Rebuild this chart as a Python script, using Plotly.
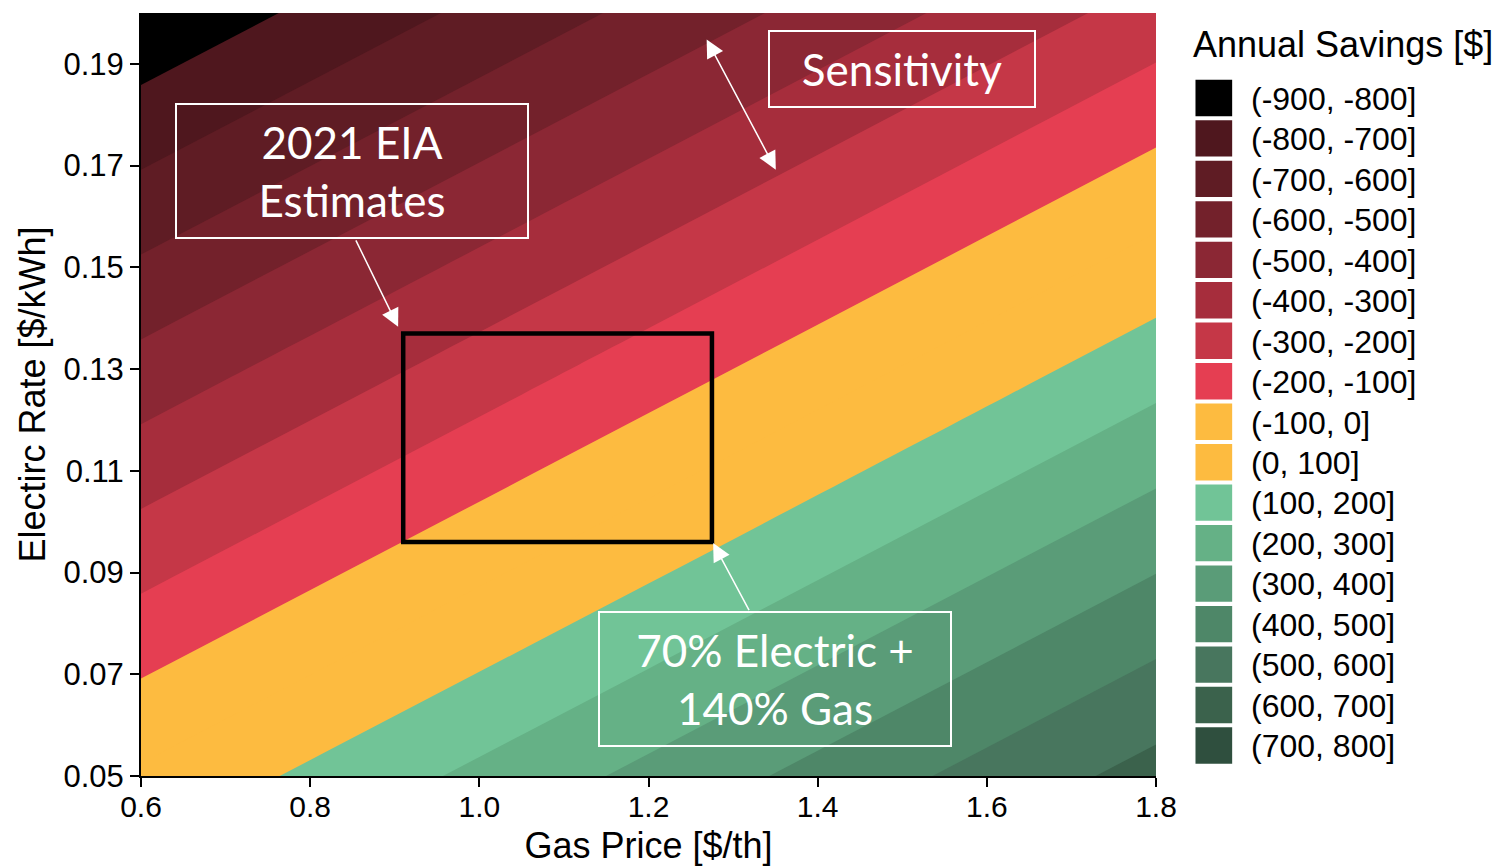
import plotly.graph_objects as go

# ---------------- data ----------------
gas_price = [0.6, 1.2, 1.8]            # $/th
electric_rate = [0.05, 0.125, 0.2]     # $/kWh
annual_savings = [                      # rows follow electric_rate, columns follow gas_price
    [15, 326, 637],
    [-435, -122, 190],
    [-885, -572, -258],
]

band_labels = [
    "(-900, -800]", "(-800, -700]", "(-700, -600]", "(-600, -500]",
    "(-500, -400]", "(-400, -300]", "(-300, -200]", "(-200, -100]",
    "(-100, 0]", "(0, 100]", "(100, 200]", "(200, 300]", "(300, 400]",
    "(400, 500]", "(500, 600]", "(600, 700]", "(700, 800]",
]
band_colors = [
    "#000000", "#4f171e", "#5f1c24", "#73212b", "#8b2734", "#a62d3c",
    "#c53747", "#e53e52", "#fdbb40", "#fdbb40", "#71c497", "#65b186",
    "#5a9c78", "#4e8768", "#48765e", "#3b624c", "#2f4f3e",
]

eia_gas_range = [0.91, 1.275]
eia_elec_range = [0.096, 0.137]

x_ticks = [0.6, 0.8, 1.0, 1.2, 1.4, 1.6, 1.8]
y_ticks = [0.05, 0.07, 0.09, 0.11, 0.13, 0.15, 0.17, 0.19]

# ---------------- layout constants ----------------
# The page body adds an 8px offset, so the figure is drawn 8px smaller and
# all page positions below are given in window pixels.
OFF = 8
W, H = 1504 - OFF, 866 - OFF
PLOT_L, PLOT_R, PLOT_T, PLOT_B = 141, 1156.5, 12.5, 776   # window pixels
ML = PLOT_L - OFF
MT = PLOT_T - OFF
MR = W - (PLOT_R - OFF)
MB = H - (PLOT_B - OFF)
PW, PH = PLOT_R - PLOT_L, PLOT_B - PLOT_T


def px_x(p):
    return (p - PLOT_L) / PW


def px_y(p):
    return (PLOT_B - p) / PH


AX_FONT = "Liberation Sans, Arial, sans-serif"
BOX_FONT = "Lato, Open Sans, sans-serif"

n_levels = len(band_colors) - 1
colorscale = [[i / n_levels, c] for i, c in enumerate(band_colors)]

fig = go.Figure()
fig.add_trace(go.Contour(
    x=gas_price, y=electric_rate, z=annual_savings,
    autocontour=False,
    contours=dict(start=-800, end=700, size=100, coloring="fill", showlines=False),
    colorscale=colorscale, showscale=False,
    line=dict(width=0), hoverinfo="skip",
))

shapes = [dict(
    type="rect", xref="x", yref="y",
    x0=eia_gas_range[0], x1=eia_gas_range[1],
    y0=eia_elec_range[0], y1=eia_elec_range[1],
    line=dict(color="black", width=4.5), fillcolor="rgba(0,0,0,0)",
)]

annotations = []

# legend (manual, matching the reference's swatches)
annotations.append(dict(
    xref="paper", yref="paper", x=px_x(1192), y=px_y(44),
    xanchor="left", yanchor="middle", showarrow=False,
    text="Annual Savings [$]", font=dict(family=AX_FONT, size=36, color="black"),
))
for i, (lab, col) in enumerate(zip(band_labels, band_colors)):
    top = 79.3 + i * 40.5
    shapes.append(dict(
        type="rect", xref="paper", yref="paper",
        x0=px_x(1196), x1=px_x(1232.7), y0=px_y(top + 36.4), y1=px_y(top),
        fillcolor=col, line=dict(width=0),
    ))
    annotations.append(dict(
        xref="paper", yref="paper", x=px_x(1250), y=px_y(top + 19),
        xanchor="left", yanchor="middle", showarrow=False,
        text=lab, font=dict(family=AX_FONT, size=32, color="black"),
    ))

# boxed annotations
box_font = dict(family=BOX_FONT, size=44, color="white")
annotations += [
    dict(x=1.5, y=0.189, xref="x", yref="y", text="Sensitivity", showarrow=False,
         width=264, height=74, bordercolor="white", borderwidth=2, borderpad=0,
         font=box_font),
    dict(x=0.85, y=0.169, xref="x", yref="y", text="2021 EIA<br>Estimates", showarrow=False,
         width=350, height=132, bordercolor="white", borderwidth=2, borderpad=0,
         font=box_font),
    dict(x=1.35, y=0.069, xref="x", yref="y", text="70% Electric +<br>140% Gas", showarrow=False,
         width=350, height=132, bordercolor="white", borderwidth=2, borderpad=0,
         font=box_font),
]

# arrows
arrow_common = dict(xref="x", yref="y", axref="x", ayref="y", text="", showarrow=True,
                    arrowcolor="white", arrowwidth=1.5, arrowhead=2, arrowsize=2.4,
                    standoff=0, startstandoff=0)
annotations += [
    dict(x=0.904, y=0.1383, ax=0.8532, ay=0.1556, **arrow_common),
    dict(x=1.2764, y=0.0958, ax=1.3198, ay=0.0823, **arrow_common),
    dict(x=1.3505, y=0.1692, ax=1.2678, ay=0.1951, arrowside="end+start",
         startarrowhead=2, startarrowsize=2.4, **arrow_common),
]

fig.update_layout(
    width=W, height=H,
    margin=dict(l=ML, r=MR, t=MT, b=MB, autoexpand=False),
    paper_bgcolor="white", plot_bgcolor="white",
    showlegend=False,
    shapes=shapes, annotations=annotations,
    xaxis=dict(
        range=[0.6, 1.8], tickvals=x_ticks, tickformat=".1f", automargin=False,
        showgrid=False, zeroline=False, showline=True, linecolor="black", linewidth=2,
        ticks="outside", ticklen=9, tickwidth=2, tickcolor="black",
        ticklabelstandoff=-6,
        tickfont=dict(family=AX_FONT, size=30, color="black"),
        title=dict(text="Gas Price [$/th]", font=dict(family=AX_FONT, size=36, color="black"),
                   standoff=12),
    ),
    yaxis=dict(
        range=[0.05, 0.2], tickvals=y_ticks, tickformat=".2f", automargin=False,
        showgrid=False, zeroline=False, showline=True, linecolor="black", linewidth=2,
        ticks="outside", ticklen=9, tickwidth=2, tickcolor="black",
        tickfont=dict(family=AX_FONT, size=31, color="black"),
        title=dict(text="Electirc Rate [$/kWh]", font=dict(family=AX_FONT, size=36, color="black"),
                   standoff=7),
    ),
)

fig.write_html("out.html")
